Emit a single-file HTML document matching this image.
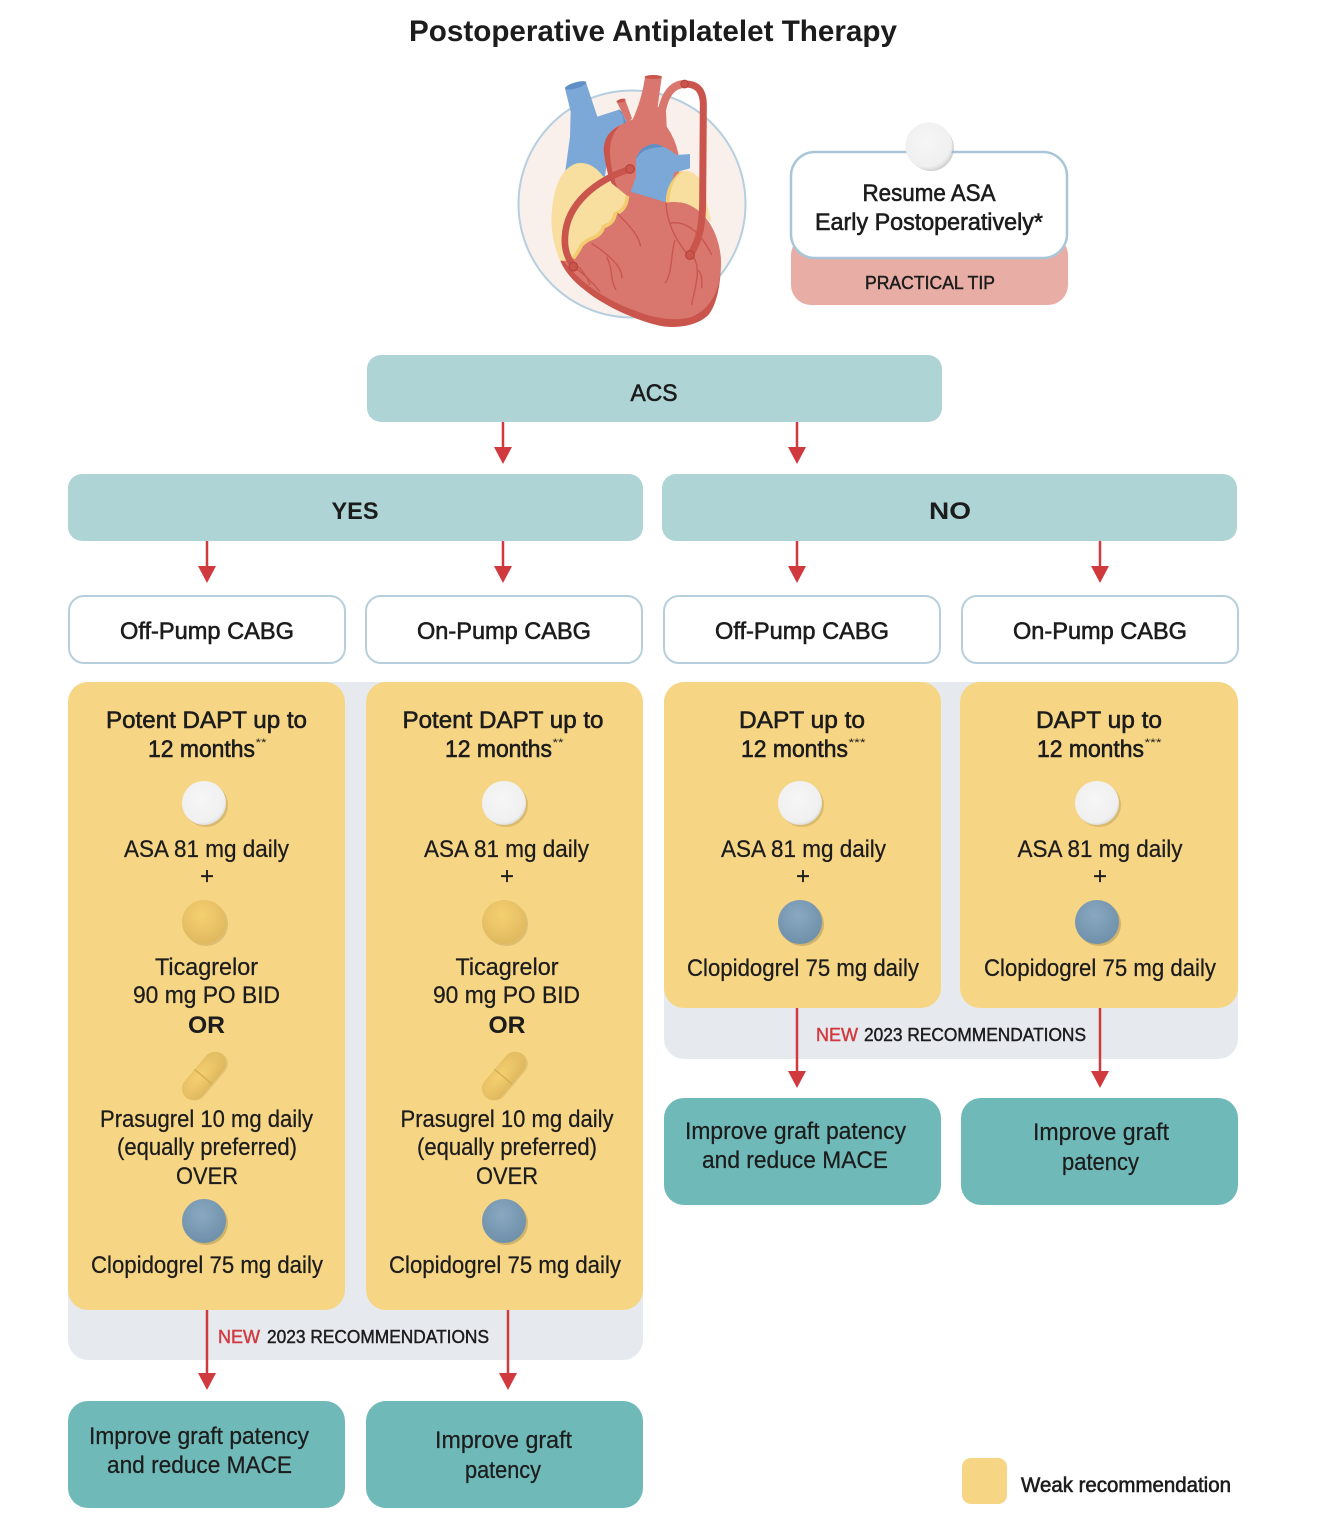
<!DOCTYPE html>
<html><head><meta charset="utf-8"><style>
html,body{margin:0;padding:0;background:#fff}
svg{display:block}
text{font-family:"Liberation Sans",sans-serif;fill:#1c1c1c;text-anchor:middle}
.r{font-size:24px;stroke:#1c1c1c;stroke-width:.25px}
.m{font-size:24px;stroke:#1c1c1c;stroke-width:.6px}
.b{font-size:24px;font-weight:bold}
.s{font-size:18px;stroke:#1c1c1c;stroke-width:.45px}
.a{fill:#d03a3e}
</style></head><body>
<svg width="1334" height="1523" viewBox="0 0 1334 1523" xmlns="http://www.w3.org/2000/svg">
<defs>
<radialGradient id="w" cx=".45" cy=".42" r=".6"><stop offset="0" stop-color="#f6f6f6"/><stop offset=".85" stop-color="#f0f0f0"/><stop offset="1" stop-color="#dcdcdc"/></radialGradient>
<radialGradient id="y" cx=".45" cy=".35" r=".65"><stop offset="0" stop-color="#f5d070"/><stop offset="1" stop-color="#e0b95f"/></radialGradient>
<radialGradient id="u" cx=".45" cy=".35" r=".65"><stop offset="0" stop-color="#8aa8c0"/><stop offset="1" stop-color="#6f90ab"/></radialGradient>
<g id="pw"><circle cx="2" cy="2" r="22" fill="#b89a50" opacity=".45"/><circle r="22" fill="url(#w)"/></g>
<g id="py"><circle cx="2" cy="2" r="22" fill="#b89a50" opacity=".4"/><circle r="22" fill="url(#y)"/></g>
<g id="pu"><circle cx="2" cy="2" r="22" fill="#a08a50" opacity=".45"/><circle r="22" fill="url(#u)"/></g>
<g id="cap"><g transform="rotate(-50)"><rect x="-27" y="-10" width="56" height="23" rx="11.500" fill="#b89a50" opacity=".3"/><rect x="-28" y="-11.500" width="56" height="23" rx="11.500" fill="url(#y)"/><line x1="-1" y1="-11.500" x2="-1" y2="11.500" stroke="#d2aa50" stroke-width="1.200"/></g></g>
<g id="dn"><path d="M-9 0H9L0 17Z" class="a"/></g>
</defs>

<text x="653" y="41" style="font-size:30px;font-weight:bold" textLength="488" lengthAdjust="spacingAndGlyphs">Postoperative Antiplatelet Therapy</text>

<!-- heart -->
<circle cx="632" cy="204" r="113.500" fill="#f9efeb" stroke="#b6cfdf" stroke-width="2"/>
<g transform="translate(510,70) scale(.33333)">
<path d="M165 55L228 37L262 140L330 118L352 160L300 200L285 320L165 310L180 200L182 125Z" fill="#7ca8d8"/>
<ellipse cx="197" cy="46" rx="33" ry="9" fill="#5f8fc4" transform="rotate(-16 197 46)"/>
<path d="M335 125L350 160L340 165Q345 140 325 120Z" fill="#5f8fc4"/>
<path d="M320 95L345 88L366 145L352 160Z" fill="#d9776f"/>
<ellipse cx="333" cy="92" rx="14" ry="5" fill="#c9554d" transform="rotate(-15 333 92)"/>
<path d="M405 22H455L443 110L468 125L470 170Q495 205 505 250L510 340L400 400L330 375L295 320L280 240Q285 195 320 170L368 148Q395 90 405 22Z" fill="#d9776f"/>
<path d="M330 168Q285 185 281 235Q285 300 310 352L328 370Q300 300 300 245Q300 195 330 168Z" fill="#c9554d"/>
<ellipse cx="430" cy="21" rx="26" ry="6" fill="#c9554d"/>
<path d="M378 265Q395 225 435 222Q470 230 500 255L540 252V295L492 308L475 400L430 405L360 372L378 320Z" fill="#7ca8d8"/>
<path d="M378 268Q390 225 435 222Q450 224 462 231Q420 232 398 245Q385 255 378 268Z" fill="#5f8fc4"/>
<path d="M468 400Q465 345 510 305Q550 295 575 335L604 455L570 430Z" fill="#f8dfa0"/>
<path d="M468 400Q465 345 510 305L520 303Q480 330 478 400Z" fill="#f2cc6e"/>
<path d="M150 570C170 620 210 650 250 680C310 720 380 750 440 765C490 778 560 770 595 735C625 700 635 620 632 560C625 490 590 425 530 402C500 392 470 398 470 398L360 365L320 400Z" fill="#c9554d"/>
<path d="M155 565C210 640 290 690 370 720C430 745 490 755 540 742C590 725 620 680 630 620C632 600 633 580 632 560C625 490 590 425 530 402C500 392 470 398 470 398L360 365L320 400Z" fill="#d9776f"/>
<path d="M150 572Q120 500 125 430Q135 300 200 280Q245 272 280 320L352 378Q352 420 315 432Q312 460 280 470Q275 495 245 505Q230 510 215 525Q205 545 190 565Q170 575 150 572Z" fill="#f8dfa0"/>
<path d="M352 378Q350 420 315 432Q312 460 280 470Q275 495 245 505Q230 510 215 525Q205 545 190 565" fill="none" stroke="#f2cc6e" stroke-width="11"/>
<g fill="none" stroke="#c9554d" stroke-width="4">
<path d="M322 430C350 460 385 490 392 530"/>
<path d="M245 520C290 550 340 590 335 625"/>
<path d="M290 560C310 600 300 630 318 660"/>
<path d="M190 590C220 610 250 640 270 665"/>
<path d="M205 590C225 610 235 630 240 645"/>
<path d="M468 398C470 450 490 500 530 550"/>
<path d="M480 460C520 450 570 480 605 555"/>
<path d="M495 510C480 560 490 600 465 640"/>
<path d="M550 560C575 600 555 650 545 705"/>
<path d="M565 600C580 620 575 640 575 655"/>
</g>
<path d="M360 297C260 330 170 400 165 500C162 540 175 570 192 588" fill="none" stroke="#c9554d" stroke-width="20"/>
<path d="M455 125C465 70 490 42 525 42" fill="none" stroke="#d9776f" stroke-width="24"/>
<path d="M525 42C565 42 580 65 580 105L578 390C578 460 570 510 540 555" fill="none" stroke="#c9554d" stroke-width="21"/>
<g fill="#c9554d" stroke="#b8463f" stroke-width="4"><circle cx="360" cy="297" r="13"/><circle cx="190" cy="590" r="13"/><circle cx="540" cy="555" r="13"/><circle cx="524" cy="42" r="11"/></g>
</g>

<!-- practical tip -->
<rect x="791" y="235" width="277" height="70" rx="20" fill="#e8aea6"/>
<rect x="791" y="152" width="276" height="106" rx="24" fill="#fff" stroke="#a9c6d8" stroke-width="2.500"/>
<circle cx="931" cy="148" r="23" fill="#aaa" opacity=".5"/>
<circle cx="929" cy="146" r="23.500" fill="url(#w)"/>
<text class="m" x="929" y="201" textLength="133" lengthAdjust="spacingAndGlyphs">Resume ASA</text>
<text class="m" x="929" y="230" textLength="228" lengthAdjust="spacingAndGlyphs">Early Postoperatively*</text>
<text class="s" x="930" y="289" textLength="130" lengthAdjust="spacingAndGlyphs">PRACTICAL TIP</text>

<!-- top boxes -->
<rect x="367" y="355" width="575" height="67" rx="14" fill="#aed4d6"/>
<text class="m" x="654" y="401" textLength="47" lengthAdjust="spacingAndGlyphs">ACS</text>
<rect x="68" y="474" width="575" height="67" rx="14" fill="#aed4d6"/>
<rect x="662" y="474" width="575" height="67" rx="14" fill="#aed4d6"/>
<text class="b" x="355" y="519" textLength="47" lengthAdjust="spacingAndGlyphs">YES</text>
<text class="b" x="950" y="519" textLength="42" lengthAdjust="spacingAndGlyphs">NO</text>

<g fill="#fff" stroke="#b7cfdc" stroke-width="2">
<rect x="69" y="596" width="276" height="67" rx="15"/>
<rect x="366" y="596" width="276" height="67" rx="15"/>
<rect x="664" y="596" width="276" height="67" rx="15"/>
<rect x="962" y="596" width="276" height="67" rx="15"/>
</g>
<text class="m" x="207" y="639" textLength="174" lengthAdjust="spacingAndGlyphs">Off-Pump CABG</text>
<text class="m" x="504" y="639" textLength="174" lengthAdjust="spacingAndGlyphs">On-Pump CABG</text>
<text class="m" x="802" y="639" textLength="174" lengthAdjust="spacingAndGlyphs">Off-Pump CABG</text>
<text class="m" x="1100" y="639" textLength="174" lengthAdjust="spacingAndGlyphs">On-Pump CABG</text>

<!-- panels -->
<rect x="68" y="682" width="575" height="678" rx="20" fill="#e6eaef"/>
<rect x="664" y="682" width="574" height="377" rx="20" fill="#e6eaef"/>
<g fill="#f6d585">
<rect x="68" y="682" width="277" height="628" rx="20"/>
<rect x="366" y="682" width="277" height="628" rx="20"/>
<rect x="664" y="682" width="277" height="326" rx="20"/>
<rect x="960" y="682" width="278" height="326" rx="20"/>
</g>
<g fill="#70b9b9">
<rect x="68" y="1401" width="277" height="107" rx="20"/>
<rect x="366" y="1401" width="277" height="107" rx="20"/>
<rect x="664" y="1098" width="277" height="107" rx="20"/>
<rect x="961" y="1098" width="277" height="107" rx="20"/>
</g>
<rect x="962" y="1458" width="45" height="46" rx="9" fill="#f6d585"/>
<text class="s" x="1126" y="1492" style="font-size:21px;stroke-width:.6px" textLength="210" lengthAdjust="spacingAndGlyphs">Weak recommendation</text>

<!-- arrows -->
<g stroke="#d03a3e" stroke-width="2.500">
<line x1="503" y1="422" x2="503" y2="450"/><line x1="797" y1="422" x2="797" y2="450"/>
<line x1="207" y1="541" x2="207" y2="569"/><line x1="503" y1="541" x2="503" y2="569"/>
<line x1="797" y1="541" x2="797" y2="569"/><line x1="1100" y1="541" x2="1100" y2="569"/>
<line x1="207" y1="1310" x2="207" y2="1376"/><line x1="508" y1="1310" x2="508" y2="1376"/>
<line x1="797" y1="1008" x2="797" y2="1074"/><line x1="1100" y1="1008" x2="1100" y2="1074"/>
</g>
<use href="#dn" x="503" y="447"/><use href="#dn" x="797" y="447"/>
<use href="#dn" x="207" y="566"/><use href="#dn" x="503" y="566"/><use href="#dn" x="797" y="566"/><use href="#dn" x="1100" y="566"/>
<use href="#dn" x="207" y="1373"/><use href="#dn" x="508" y="1373"/><use href="#dn" x="797" y="1071"/><use href="#dn" x="1100" y="1071"/>

<!-- column 1 -->
<text class="m" x="206.500" y="728" textLength="201" lengthAdjust="spacingAndGlyphs">Potent DAPT up to</text>
<text class="m" x="201.500" y="757" textLength="107" lengthAdjust="spacingAndGlyphs">12 months</text>
<text x="261" y="746" style="font-size:11px" textLength="11" lengthAdjust="spacingAndGlyphs">**</text>
<use href="#pw" x="204" y="803"/>
<text class="r" x="206.500" y="857" textLength="165" lengthAdjust="spacingAndGlyphs">ASA 81 mg daily</text>
<text class="r" x="207" y="884">+</text>
<use href="#py" x="204" y="922"/>
<text class="r" x="206.500" y="975" textLength="103" lengthAdjust="spacingAndGlyphs">Ticagrelor</text>
<text class="r" x="206.500" y="1003" textLength="147" lengthAdjust="spacingAndGlyphs">90 mg PO BID</text>
<text class="b" x="206.500" y="1033" textLength="37" lengthAdjust="spacingAndGlyphs">OR</text>
<use href="#cap" x="204" y="1076"/>
<text class="r" x="206.500" y="1127" textLength="213" lengthAdjust="spacingAndGlyphs">Prasugrel 10 mg daily</text>
<text class="r" x="207" y="1155" textLength="180" lengthAdjust="spacingAndGlyphs">(equally preferred)</text>
<text class="r" x="207" y="1184" textLength="62" lengthAdjust="spacingAndGlyphs">OVER</text>
<use href="#pu" x="204" y="1221"/>
<text class="r" x="207" y="1273" textLength="232" lengthAdjust="spacingAndGlyphs">Clopidogrel 75 mg daily</text>

<!-- column 2 -->
<text class="m" x="503" y="728" textLength="201" lengthAdjust="spacingAndGlyphs">Potent DAPT up to</text>
<text class="m" x="498.500" y="757" textLength="107" lengthAdjust="spacingAndGlyphs">12 months</text>
<text x="558" y="746" style="font-size:11px" textLength="11" lengthAdjust="spacingAndGlyphs">**</text>
<use href="#pw" x="504" y="803"/>
<text class="r" x="506.500" y="857" textLength="165" lengthAdjust="spacingAndGlyphs">ASA 81 mg daily</text>
<text class="r" x="507" y="884">+</text>
<use href="#py" x="504" y="922"/>
<text class="r" x="507" y="975" textLength="103" lengthAdjust="spacingAndGlyphs">Ticagrelor</text>
<text class="r" x="506.500" y="1003" textLength="147" lengthAdjust="spacingAndGlyphs">90 mg PO BID</text>
<text class="b" x="507" y="1033" textLength="37" lengthAdjust="spacingAndGlyphs">OR</text>
<use href="#cap" x="504" y="1076"/>
<text class="r" x="507" y="1127" textLength="213" lengthAdjust="spacingAndGlyphs">Prasugrel 10 mg daily</text>
<text class="r" x="507" y="1155" textLength="180" lengthAdjust="spacingAndGlyphs">(equally preferred)</text>
<text class="r" x="507" y="1184" textLength="62" lengthAdjust="spacingAndGlyphs">OVER</text>
<use href="#pu" x="504" y="1221"/>
<text class="r" x="505" y="1273" textLength="232" lengthAdjust="spacingAndGlyphs">Clopidogrel 75 mg daily</text>

<!-- column 3 -->
<text class="m" x="802" y="728" textLength="126" lengthAdjust="spacingAndGlyphs">DAPT up to</text>
<text class="m" x="794.500" y="757" textLength="107" lengthAdjust="spacingAndGlyphs">12 months</text>
<text x="857" y="746" style="font-size:11px" textLength="17" lengthAdjust="spacingAndGlyphs">***</text>
<use href="#pw" x="800" y="803"/>
<text class="r" x="803.500" y="857" textLength="165" lengthAdjust="spacingAndGlyphs">ASA 81 mg daily</text>
<text class="r" x="803" y="884">+</text>
<use href="#pu" x="800" y="922"/>
<text class="r" x="803" y="976" textLength="232" lengthAdjust="spacingAndGlyphs">Clopidogrel 75 mg daily</text>

<!-- column 4 -->
<text class="m" x="1099" y="728" textLength="126" lengthAdjust="spacingAndGlyphs">DAPT up to</text>
<text class="m" x="1090.500" y="757" textLength="107" lengthAdjust="spacingAndGlyphs">12 months</text>
<text x="1153" y="746" style="font-size:11px" textLength="17" lengthAdjust="spacingAndGlyphs">***</text>
<use href="#pw" x="1097" y="803"/>
<text class="r" x="1100" y="857" textLength="165" lengthAdjust="spacingAndGlyphs">ASA 81 mg daily</text>
<text class="r" x="1100" y="884">+</text>
<use href="#pu" x="1097" y="922"/>
<text class="r" x="1100" y="976" textLength="232" lengthAdjust="spacingAndGlyphs">Clopidogrel 75 mg daily</text>

<!-- new 2023 -->
<text class="s" x="239" y="1343" style="fill:#d03a3e;stroke:#d03a3e" textLength="42" lengthAdjust="spacingAndGlyphs">NEW</text>
<text class="s" x="378" y="1343" textLength="222" lengthAdjust="spacingAndGlyphs">2023 RECOMMENDATIONS</text>
<text class="s" x="837" y="1041" style="fill:#d03a3e;stroke:#d03a3e" textLength="42" lengthAdjust="spacingAndGlyphs">NEW</text>
<text class="s" x="975" y="1041" textLength="222" lengthAdjust="spacingAndGlyphs">2023 RECOMMENDATIONS</text>

<!-- outcomes -->
<text class="r" x="199" y="1444" textLength="220" lengthAdjust="spacingAndGlyphs">Improve graft patency</text>
<text class="r" x="199.500" y="1473" textLength="185" lengthAdjust="spacingAndGlyphs">and reduce MACE</text>
<text class="r" x="503.500" y="1448" textLength="137" lengthAdjust="spacingAndGlyphs">Improve graft</text>
<text class="r" x="503" y="1478" textLength="76" lengthAdjust="spacingAndGlyphs">patency</text>
<text class="r" x="795.500" y="1139" textLength="221" lengthAdjust="spacingAndGlyphs">Improve graft patency</text>
<text class="r" x="795" y="1168" textLength="186" lengthAdjust="spacingAndGlyphs">and reduce MACE</text>
<text class="r" x="1101" y="1140" textLength="136" lengthAdjust="spacingAndGlyphs">Improve graft</text>
<text class="r" x="1100.500" y="1170" textLength="77" lengthAdjust="spacingAndGlyphs">patency</text>
</svg>
</body></html>
